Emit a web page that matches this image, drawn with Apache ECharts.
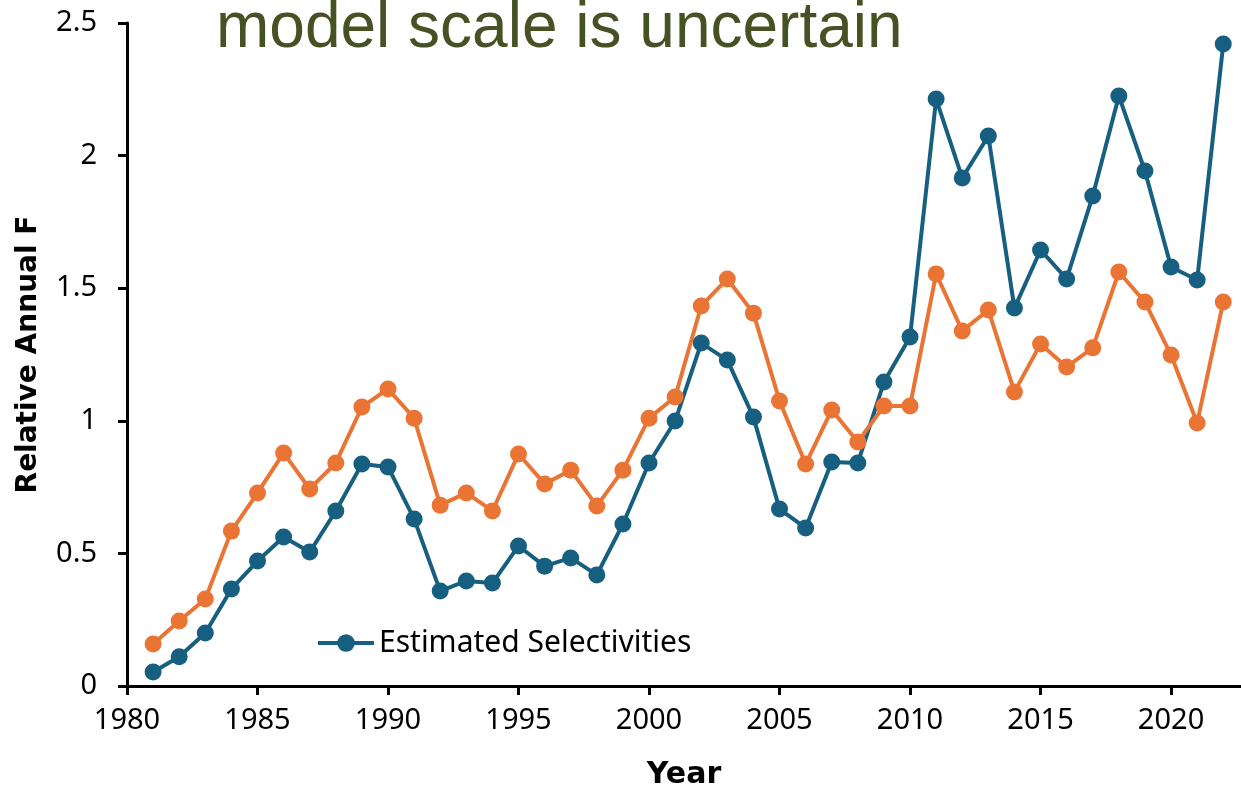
<!DOCTYPE html>
<html>
<head>
<meta charset="utf-8">
<script src="https://cdn.jsdelivr.net/npm/echarts@6/dist/echarts.min.js"></script>
<style>
  html, body { margin: 0; padding: 0; background: #fff; }
  #chart { width: 1241px; height: 791px; }
</style>
</head>
<body>
<div id="chart"></div>
<script>
// Relative annual fishing mortality by year
const years = [1981, 1982, 1983, 1984, 1985, 1986, 1987, 1988, 1989, 1990,
  1991, 1992, 1993, 1994, 1995, 1996, 1997, 1998, 1999, 2000,
  2001, 2002, 2003, 2004, 2005, 2006, 2007, 2008, 2009, 2010,
  2011, 2012, 2013, 2014, 2015, 2016, 2017, 2018, 2019, 2020,
  2021, 2022];

const estimatedSelectivities = [0.053, 0.11, 0.20, 0.366, 0.471, 0.562, 0.505, 0.66, 0.837, 0.826,
  0.63, 0.358, 0.396, 0.388, 0.528, 0.452, 0.483, 0.419, 0.611, 0.841,
  0.999, 1.293, 1.229, 1.014, 0.667, 0.596, 0.845, 0.841, 1.146, 1.316,
  2.213, 1.916, 2.074, 1.425, 1.644, 1.535, 1.848, 2.225, 1.942, 1.58,
  1.531, 2.421];

const otherRun = [0.158, 0.245, 0.328, 0.584, 0.728, 0.879, 0.743, 0.841, 1.052, 1.12,
  1.01, 0.682, 0.728, 0.66, 0.875, 0.762, 0.814, 0.679, 0.814, 1.01,
  1.09, 1.433, 1.535, 1.406, 1.075, 0.837, 1.041, 0.92, 1.056, 1.056,
  1.554, 1.339, 1.418, 1.109, 1.29, 1.203, 1.275, 1.561, 1.448, 1.248,
  0.992, 1.448];

const yTicks = [0, 0.5, 1, 1.5, 2, 2.5];
const xTicks = [1980, 1985, 1990, 1995, 2000, 2005, 2010, 2015, 2020];

const titleText = 'model scale is uncertain';
const seriesName = 'Estimated Selectivities';

const BLUE = '#175F81';
const ORANGE = '#EA7434';

const pairs = (xs, ys) => xs.map((x, i) => [x, ys[i]]);

const chart = echarts.init(document.getElementById('chart'), null, { renderer: 'canvas' });

const axisFont = 'Noto Sans';

chart.setOption({
  animation: false,
  backgroundColor: '#ffffff',
  title: {
    text: titleText,
    left: 211,
    top: -8,
    textStyle: {
      fontFamily: 'Liberation Sans',
      fontWeight: 'normal',
      fontSize: 64,
      color: '#465124'
    }
  },
  legend: {
    data: [seriesName],
    left: 311,
    top: 623,
    itemWidth: 56,
    itemHeight: 22,
    itemGap: 0,
    lineStyle: { width: 4 },
    textStyle: {
      fontFamily: axisFont,
      fontSize: 30,
      color: '#000'
    }
  },
  grid: {
    left: 127,
    right: 0,
    top: 23,
    bottom: 105,
    containLabel: false,
    outerBoundsMode: 'none'
  },
  xAxis: {
    type: 'value',
    min: 1980,
    max: 2022.68,
    interval: 5,
    name: 'Year',
    nameLocation: 'middle',
    nameGap: 74,
    nameTextStyle: {
      fontFamily: 'DejaVu Sans',
      fontWeight: 'bold',
      fontSize: 30,
      color: '#000'
    },
    splitLine: { show: false },
    axisLine: { onZero: false, lineStyle: { color: '#000', width: 3 } },
    axisTick: { show: true, inside: false, length: 9, lineStyle: { color: '#000', width: 3 } },
    axisLabel: {
      showMaxLabel: false,
      margin: 20,
      fontFamily: axisFont,
      fontSize: 29,
      color: '#000',
      formatter: v => (xTicks.indexOf(v) >= 0 ? String(v) : '')
    }
  },
  yAxis: {
    type: 'value',
    min: 0,
    max: 2.5,
    interval: 0.5,
    name: 'Relative Annual F',
    nameLocation: 'middle',
    nameGap: 84,
    nameRotate: 90,
    nameTextStyle: {
      fontFamily: 'DejaVu Sans',
      fontWeight: 'bold',
      fontSize: 28,
      color: '#000'
    },
    splitLine: { show: false },
    axisLine: { show: true, lineStyle: { color: '#000', width: 3 } },
    axisTick: { show: true, inside: false, length: 9, lineStyle: { color: '#000', width: 3 } },
    axisLabel: {
      margin: 30,
      fontFamily: axisFont,
      fontSize: 29,
      color: '#000',
      formatter: v => (yTicks.indexOf(v) >= 0 ? String(v) : '')
    }
  },
  series: [
    {
      name: seriesName,
      type: 'line',
      data: pairs(years, estimatedSelectivities),
      symbol: 'circle',
      symbolSize: 17,
      showSymbol: true,
      lineStyle: { color: BLUE, width: 4 },
      itemStyle: { color: BLUE, borderWidth: 0 },
      z: 2
    },
    {
      name: 'Base',
      type: 'line',
      data: pairs(years, otherRun),
      symbol: 'circle',
      symbolSize: 17,
      showSymbol: true,
      lineStyle: { color: ORANGE, width: 4 },
      itemStyle: { color: ORANGE, borderWidth: 0 },
      z: 3
    }
  ]
});
</script>
</body>
</html>
